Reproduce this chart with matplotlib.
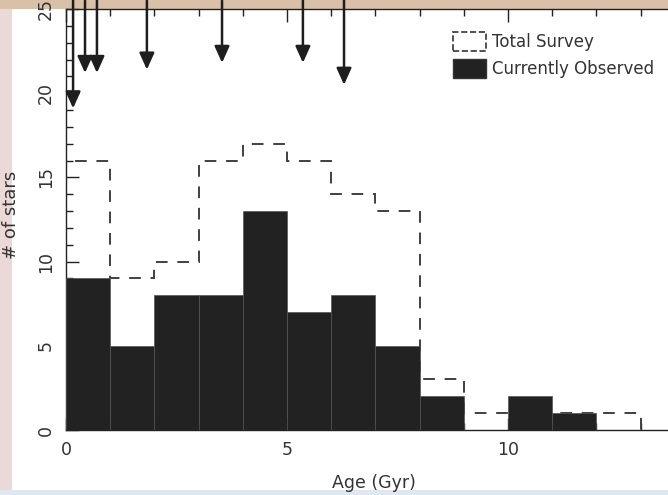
import numpy as np
import matplotlib.pyplot as plt
from matplotlib.patches import Patch, Rectangle
from matplotlib.ticker import MultipleLocator

# Step 1: data (1 Gyr bins)
bin_edges = np.arange(0, 14)
observed = [9, 5, 8, 8, 13, 7, 8, 5, 2, 0, 2, 1, 0]
total_survey = [16, 9, 10, 16, 17, 16, 14, 13, 3, 1, 1, 1, 1]
arrow_ages = [0.16, 0.43, 0.70, 1.83, 3.53, 5.36, 6.29]
arrow_tips = [19.1, 21.2, 21.2, 21.4, 21.8, 21.8, 20.5]

# Step 2: figure with the slide-like frame around the plot
fig = plt.figure(figsize=(6.68, 4.95), dpi=100)
fig.patch.set_facecolor('#ead9d6')
fig.patches.append(Rectangle((0, 1 - 9 / 495), 1, 9 / 495, transform=fig.transFigure,
                             facecolor='#d9c0a9', edgecolor='none', zorder=-5))
fig.patches.append(Rectangle((0, 0), 1, 5 / 495, transform=fig.transFigure,
                             facecolor='#dfe8f0', edgecolor='none', zorder=-5))
fig.patches.append(Rectangle((12 / 668, 5 / 495), 1, 1 - 14 / 495, transform=fig.transFigure,
                             facecolor='white', edgecolor='none', zorder=-4))

# axes runs off the right edge like the cropped original
ax = fig.add_axes([66 / 668, 65 / 495, 654 / 668, 421 / 495])
ax.set_facecolor('none')

ax.stairs(total_survey, bin_edges, color='#404040', linestyle=(0, (6, 5)),
          linewidth=1.4, baseline=0, zorder=2)
ax.bar(bin_edges[:-1], observed, width=1, align='edge', color='#222222',
       edgecolor='#555555', linewidth=0.5, zorder=3)

for age, tip in zip(arrow_ages, arrow_tips):
    ax.annotate('', xy=(age, tip), xytext=(age, 25.5),
                arrowprops=dict(arrowstyle='-|>,head_length=1.0,head_width=0.45',
                                color='#1e1e1e', lw=1.8, shrinkA=0, shrinkB=0),
                annotation_clip=False, zorder=4)

ax.set_xlim(0, 654 / 44.2)
ax.set_ylim(0, 25)
ax.xaxis.set_major_locator(MultipleLocator(5))
ax.xaxis.set_minor_locator(MultipleLocator(1))
ax.yaxis.set_major_locator(MultipleLocator(5))
ax.yaxis.set_minor_locator(MultipleLocator(1))
ax.tick_params(which='both', direction='in', top=True, right=True, colors='#222222',
               labelcolor='#333333', width=1.0)
ax.tick_params(which='major', length=9, labelsize=12.5, pad=8)
ax.tick_params(which='minor', length=5)
for lab in ax.get_yticklabels():
    lab.set_rotation(90)
    lab.set_va('center')
for sp in ax.spines.values():
    sp.set_color('#222222')
    sp.set_linewidth(1.0)

ax.set_xlabel('Age (Gyr)', fontsize=12.5, color='#333333')
ax.set_ylabel('# of stars', fontsize=13, color='#333333')
ax.xaxis.set_label_coords(308 / 654, -0.105)
ax.yaxis.set_label_coords(-46 / 654, 0.51)

handles = [Patch(facecolor='white', edgecolor='#333333', linestyle='--', linewidth=1.2),
           Patch(facecolor='#222222', edgecolor='#333333')]
ax.legend(handles, ['Total Survey', 'Currently Observed'], loc='upper left',
          bbox_to_anchor=(445 / 668, 1 - 24 / 495), bbox_transform=fig.transFigure,
          frameon=False, fontsize=12, borderpad=0, handlelength=1.95, handleheight=1.3,
          labelspacing=0.5, handletextpad=0.4, labelcolor='#333333')

plt.savefig('out.png', dpi=100, facecolor=fig.get_facecolor())
plt.close()
